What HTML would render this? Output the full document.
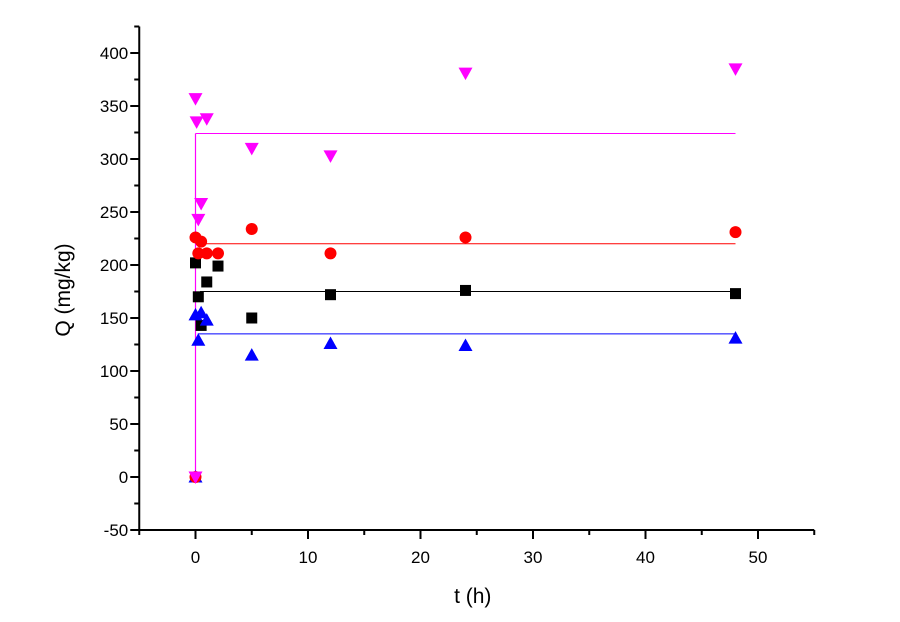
<!DOCTYPE html>
<html><head><meta charset="utf-8"><style>
body{margin:0;background:#fff;}
svg{display:block;font-family:"Liberation Sans",Arial,sans-serif;}
</style></head><body>
<svg id="chart" width="900" height="622" viewBox="0 0 900 622"></svg>
<script>
const xTicks=[0,10,20,30,40,50];
const yTicks=[-50,0,50,100,150,200,250,300,350,400];
const tM=[0,0,0.1,0.25,0.5,1,5,12,24,48];
const qM=[0,357,335,243,258,338,310,303,381,385];
const tR=[0,0,0.25,0.5,1,2,5,12,24,48];
const qR=[0,226,211,222,211,211,234,211,226,231];
const tK=[0,0,0.25,0.5,1,2,5,12,24,48];
const qK=[0,202,170,143,184,199,150,172,176,173];
const tB=[0,0,0.25,0.5,1,5,12,24,48];
const qB=[0,153,129,155,148,115,126,124,131];
const fitQ=[324,220,175,135];
const fitStart=[0,0.6,0.4,0.2];
const fitEnd=48;

const NS="http://www.w3.org/2000/svg";
const svg=document.getElementById('chart');
const X=v=>195.5+(v)*11.25;
const Y=v=>477-v*1.06;
function el(tag,attrs,parent){const e=document.createElementNS(NS,tag);for(const k in attrs)e.setAttribute(k,attrs[k]);(parent||svg).appendChild(e);return e;}

const ax=el('g',{});


let l=el('line',{x1:X(-5),y1:Y(425),x2:X(-5),y2:531,stroke:'#000','stroke-width':2},ax);


l=el('line',{x1:X(-5)-1,y1:530,x2:X(55),y2:530,stroke:'#000','stroke-width':2},ax);


for(let v=-50;v<=425;v+=25){const major=v%50===0;
 const t=el('line',{x1:X(-5)-(major?9:5),y1:Y(v),x2:X(-5),y2:Y(v),stroke:'#000','stroke-width':2},ax);
 
 }
yTicks.forEach(v=>{const t=el('text',{x:X(-5)-11,y:Y(v)+6,'text-anchor':'end','font-size':17,fill:'#000'},ax);t.textContent=v;
 
 });
for(let v=-5;v<=55;v+=5){const major=v%10===0;
 const t=el('line',{x1:X(v),y1:530,x2:X(v),y2:major?539:535,stroke:'#000','stroke-width':2},ax);
 
 }
xTicks.forEach(v=>{const t=el('text',{x:X(v),y:563,'text-anchor':'middle','font-size':17,fill:'#000'},ax);t.textContent=v;
 
 });
let tt=el('text',{x:X(25)-4,y:603,'text-anchor':'middle','font-size':21,fill:'#000'});tt.textContent='t (h)';


tt=el('text',{x:0,y:0,'text-anchor':'middle','font-size':21,fill:'#000',transform:'translate(70,290) rotate(-90)'});tt.textContent='Q (mg/kg)';



const colors=['#ff00ff','#ff0000','#000000','#0000ff'];
const names=['magenta','red','black','blue'];
fitQ.forEach((q,i)=>{const f=el('line',{x1:X(fitStart[i]),y1:Y(q),x2:X(fitEnd),y2:Y(q),stroke:colors[i],'stroke-width':1});
 
 });
const vl=el('line',{x1:X(0),y1:Y(0),x2:X(0),y2:Y(fitQ[0]),stroke:'#ff00ff','stroke-width':1.2});



function marker(kind,x,y,c){let m;
 if(kind==='sq')m=el('rect',{x:x-5.5,y:y-5.5,width:11,height:11,fill:c});
 else if(kind==='ci')m=el('circle',{cx:x,cy:y,r:6,fill:c});
 else if(kind==='up')m=el('polygon',{points:`${x},${y-7} ${x-7},${y+5.5} ${x+7},${y+5.5}`,fill:c});
 else m=el('polygon',{points:`${x},${y+7} ${x-7},${y-5.5} ${x+7},${y-5.5}`,fill:c});
 return m;}
tK.forEach((t,i)=>{const m=marker('sq',X(t),Y(qK[i]),'#000');
 
 });
tB.forEach((t,i)=>{const m=marker('up',X(t),Y(qB[i]),'#0000ff');
 
 });
tR.forEach((t,i)=>{const m=marker('ci',X(t),Y(qR[i]),'#ff0000');
 
 });
tM.forEach((t,i)=>{const m=marker('dn',X(t),Y(qM[i]),'#ff00ff');
 
 });
</script>
</body></html>
